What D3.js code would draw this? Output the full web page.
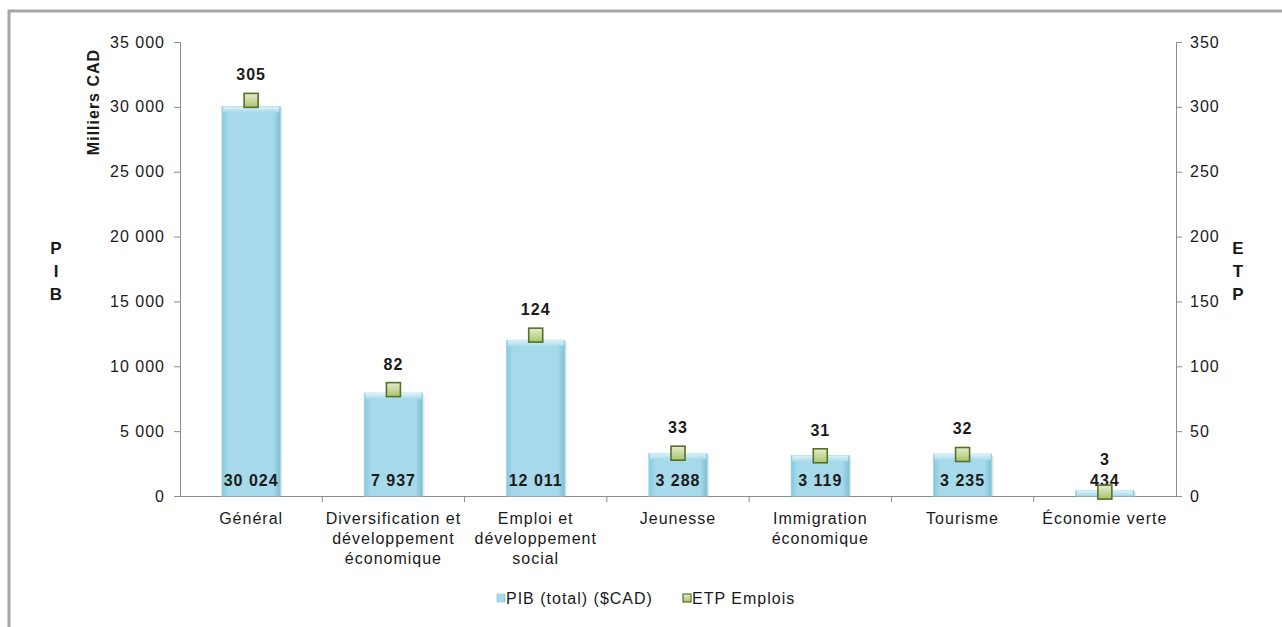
<!DOCTYPE html>
<html>
<head>
<meta charset="utf-8">
<script src="https://cdn.jsdelivr.net/npm/d3@7"></script>
<style>
  body { margin: 0; background: #fff; }
  svg text { font-family: "Liberation Sans", Arial, sans-serif; fill: #1a1a1a; letter-spacing: 1px; }
</style>
</head>
<body>
<svg id="chart" width="1282" height="627"></svg>
<script>
// data
const categories = [
    ['Général'],
    ['Diversification et', 'développement', 'économique'],
    ['Emploi et', 'développement', 'social'],
    ['Jeunesse'],
    ['Immigration', 'économique'],
    ['Tourisme'],
    ['Économie verte']
];
const pib = [30024, 7937, 12011, 3288, 3119, 3235, 434];
const etp = [305, 82, 124, 33, 31, 32, 3];
const leftTicks = [0, 5000, 10000, 15000, 20000, 25000, 30000, 35000];
const rightTicks = [0, 50, 100, 150, 200, 250, 300, 350];

const svg = d3.select('#chart');
const fmt = v => d3.format(',')(v).replace(/,/g, ' ');

const plotLeft = 180, plotRight = 1176, plotTop = 42, plotBottom = 496;

const x = d3.scaleBand().domain(d3.range(categories.length)).range([plotLeft, plotRight]).paddingInner(0.59).paddingOuter(0.295);
const band = d3.scaleBand().domain(d3.range(categories.length)).range([plotLeft, plotRight]);
const yL = d3.scaleLinear().domain([0, 35000]).range([plotBottom, plotTop]);
const yR = d3.scaleLinear().domain([0, 350]).range([plotBottom, plotTop]);

// frame
svg.append('rect').attr('x', 9).attr('y', 11).attr('width', 1300).attr('height', 700)
    .attr('fill', 'none').attr('stroke', '#a6a6a6').attr('stroke-width', 3);

const defs = svg.append('defs');
const bg = defs.append('linearGradient').attr('id', 'barGrad').attr('x1', 0).attr('x2', 1).attr('y1', 0).attr('y2', 0);
bg.append('stop').attr('offset', '0%').attr('stop-color', '#86c9df');
bg.append('stop').attr('offset', '12%').attr('stop-color', '#a6daeb');
bg.append('stop').attr('offset', '88%').attr('stop-color', '#a6daeb');
bg.append('stop').attr('offset', '100%').attr('stop-color', '#7bbdd3');
const tg = defs.append('linearGradient').attr('id', 'topGrad').attr('x1', 0).attr('x2', 0).attr('y1', 0).attr('y2', 1);
tg.append('stop').attr('offset', '0%').attr('stop-color', '#dff3fa');
tg.append('stop').attr('offset', '100%').attr('stop-color', '#a6daeb');
const mg = defs.append('linearGradient').attr('id', 'markGrad').attr('x1', 0).attr('x2', 0).attr('y1', 0).attr('y2', 1);
mg.append('stop').attr('offset', '0%').attr('stop-color', '#e4eecd');
mg.append('stop').attr('offset', '100%').attr('stop-color', '#a9c46c');

// axes
const axL = svg.append('g').attr('transform', `translate(${plotLeft},0)`)
    .call(d3.axisLeft(yL).tickValues(leftTicks).tickFormat(fmt).tickSize(6).tickPadding(9));
const axR = svg.append('g').attr('transform', `translate(${plotRight},0)`)
    .call(d3.axisRight(yR).tickValues(rightTicks).tickSize(6).tickPadding(8));
const axB = svg.append('g').attr('transform', `translate(0,${plotBottom})`)
    .call(d3.axisBottom(band).tickValues(d3.range(1, categories.length)).tickFormat('').tickSize(6).tickSizeOuter(0));
axB.selectAll('.tick').attr('transform', d => `translate(${band(d)},0)`);
[axL, axR, axB].forEach(a => {
    a.selectAll('path,line').attr('stroke', '#8c8c8c');
    a.selectAll('text').style('font-size', '16px').attr('fill', '#1a1a1a');
});

// bars
const bars = svg.append('g');
pib.forEach((v, i) => {
    const bx = x(i), bw = x.bandwidth(), by = yL(v), bh = plotBottom - yL(v);
    bars.append('rect').attr('x', bx + 2).attr('y', by + 2).attr('width', bw).attr('height', bh - 2)
        .attr('fill', '#d9d9d9').attr('opacity', 0.6);
    bars.append('rect').attr('x', bx).attr('y', by).attr('width', bw).attr('height', bh)
        .attr('fill', 'url(#barGrad)').attr('stroke', '#9fd2e3').attr('stroke-width', 0.8);
    bars.append('rect').attr('x', bx + 1).attr('y', by).attr('width', bw - 2).attr('height', Math.min(6, bh))
        .attr('fill', 'url(#topGrad)');
});

// PIB labels
const pibY = plotBottom - 10;
svg.append('g').selectAll('text').data(pib).join('text')
    .attr('x', (d, i) => x(i) + x.bandwidth() / 2)
    .attr('y', pibY)
    .attr('text-anchor', 'middle')
    .style('font-size', '16px').style('font-weight', 'bold')
    .text(fmt);

// ETP markers
const cx = i => x(i) + x.bandwidth() / 2;
svg.append('g').selectAll('rect').data(etp).join('rect')
    .attr('x', (d, i) => cx(i) - 7).attr('y', d => yR(d) - 7)
    .attr('width', 14).attr('height', 14)
    .attr('fill', 'url(#markGrad)').attr('stroke', '#56702c').attr('stroke-width', 1.6);

// ETP labels (pushed above the PIB label when they would collide)
svg.append('g').selectAll('text').data(etp).join('text')
    .attr('x', (d, i) => cx(i))
    .attr('y', d => Math.min(yR(d) - 20, pibY - 21))
    .attr('text-anchor', 'middle')
    .style('font-size', '16px').style('font-weight', 'bold')
    .text(d => d);

// category labels
const cat = svg.append('g').selectAll('text').data(categories).join('text')
    .attr('text-anchor', 'middle')
    .style('font-size', '16px');
cat.each(function(lines, i) {
    d3.select(this).selectAll('tspan').data(lines).join('tspan')
        .attr('x', band(i) + band.bandwidth() / 2)
        .attr('y', (d, j) => 524 + j * 20)
        .text(d => d);
});

// axis titles
svg.append('text').attr('transform', 'translate(99,102) rotate(-90)')
    .attr('text-anchor', 'middle').style('font-size', '16px').style('font-weight', 'bold')
    .text('Milliers CAD');
['P', 'I', 'B'].forEach((c, i) => {
    svg.append('text').attr('x', 56).attr('y', 254 + i * 23).attr('text-anchor', 'middle')
        .style('font-size', '17px').style('font-weight', 'bold').style('letter-spacing', '0px').text(c);
});
['E', 'T', 'P'].forEach((c, i) => {
    svg.append('text').attr('x', 1238).attr('y', 254 + i * 23).attr('text-anchor', 'middle')
        .style('font-size', '17px').style('font-weight', 'bold').style('letter-spacing', '0px').text(c);
});

// legend
const leg = svg.append('g').attr('transform', 'translate(0,598)');
leg.append('rect').attr('x', 497).attr('y', -4).attr('width', 8).attr('height', 8)
    .attr('fill', 'url(#barGrad)').attr('stroke', '#86c9df').attr('stroke-width', 0.6);
leg.append('text').attr('x', 506).attr('y', 6).style('font-size', '16px').text('PIB (total) ($CAD)');
leg.append('rect').attr('x', 683).attr('y', -4).attr('width', 8).attr('height', 8)
    .attr('fill', 'url(#markGrad)').attr('stroke', '#56702c').attr('stroke-width', 1.2);
leg.append('text').attr('x', 692).attr('y', 6).style('font-size', '16px').text('ETP Emplois');
</script>
</body>
</html>
